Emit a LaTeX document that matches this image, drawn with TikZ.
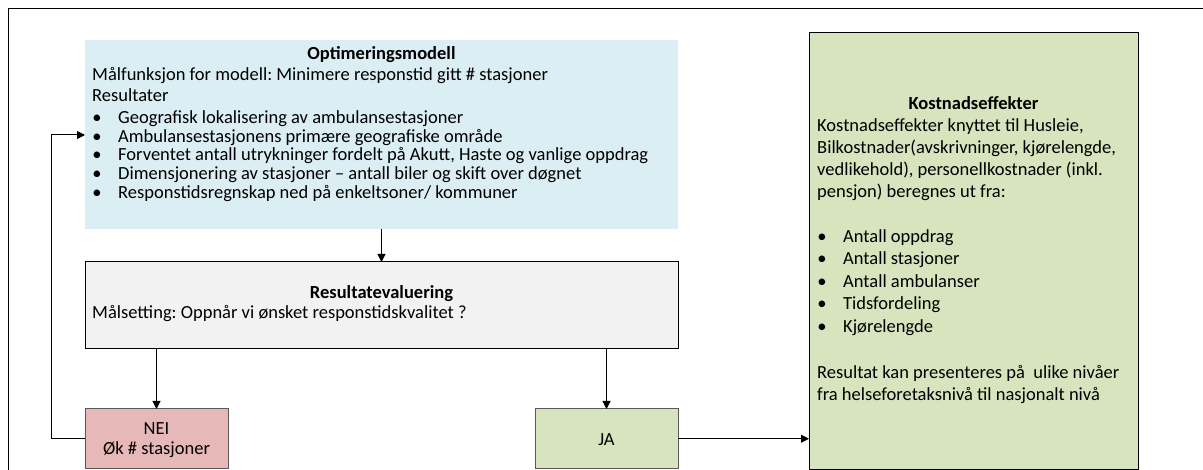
\documentclass[tikz,border=0pt]{standalone}
\usepackage{fontspec}
\setmainfont{Carlito}
\usetikzlibrary{arrows.meta}
\definecolor{optblue}{HTML}{DBEEF4}
\definecolor{evalgray}{HTML}{F2F2F2}
\definecolor{neired}{HTML}{E6B9B8}
\definecolor{jagreen}{HTML}{D7E4BD}
\definecolor{neiborder}{HTML}{595959}
\frenchspacing
\begin{document}
\begin{tikzpicture}[x=1pt,y=-1pt,
  boxnode/.style={rectangle, inner sep=0, outer sep=0, line width=1pt},
  conn/.style={line width=1pt, -{Triangle[length=8pt,width=8pt]}},
  tfont/.style={font=\fontsize{18.5}{21}\selectfont},
  tline/.style={anchor=west, inner sep=0, text height=0.7em, text depth=0.22em, tfont},
  tcenter/.style={anchor=center, inner sep=0, text height=0.7em, text depth=0.22em, tfont},
  ttitle/.style={tcenter, font=\fontsize{18.5}{21}\selectfont\bfseries},
  bdot/.style={anchor=center, inner sep=0, text height=0.7em, text depth=0.22em, tfont}
]
\useasboundingbox (0,0) rectangle (1203,470);
% outer frame
\draw[line width=1pt] (8,471) -- (8,9) -- (1204,9);

% boxes
\node[boxnode, fill=optblue, minimum width=593pt, minimum height=189pt] (opt) at (381.5,134.5) {};
\node[boxnode, draw=black, fill=evalgray, minimum width=593pt, minimum height=87pt] (eval) at (381.5,305.5) {};
\node[boxnode, draw=neiborder, fill=neired, minimum width=143pt, minimum height=59.5pt] (nei) at (156.5,438.75) {};
\node[boxnode, draw=neiborder, fill=jagreen, minimum width=143pt, minimum height=59.5pt] (ja) at (606.5,438.75) {};
\node[boxnode, draw=black, fill=jagreen, minimum width=329pt, minimum height=436pt] (kost) at (973.5,251) {};

% Optimeringsmodell text
\node[ttitle] (optT) at (381.5,57) {Optimeringsmodell};
\node[tline] (optL1) at (92,78) {Målfunksjon for modell: Minimere responstid gitt \# stasjoner};
\node[tline] (optL2) at (92,99) {Resultater};
\foreach \y/\t [count=\i] in {121/{Geografisk lokalisering av ambulansestasjoner},
  139.7/{Ambulansestasjonens primære geografiske område},
  158.5/{Forventet antall utrykninger fordelt på Akutt, Haste og vanlige oppdrag},
  177.2/{Dimensjonering av stasjoner – antall biler og skift over døgnet},
  196/{Responstidsregnskap ned på enkeltsoner/ kommuner}}{
  \node[bdot] (optD\i) at (97,\y) {\textbullet};
  \node[tline] (optB\i) at (118,\y) {\t};
}

% Resultatevaluering text
\node[ttitle] (evalT) at (381.5,296) {Resultatevaluering};
\node[tline] (evalL1) at (92,316) {Målsetting: Oppnår vi ønsket responstidskvalitet ?};

% NEI / JA
\node[tcenter] (neiT1) at (156.5,432.5) {NEI};
\node[tcenter] (neiT2) at (156.5,452.5) {Øk \# stasjoner};
\node[tcenter] (jaT) at (606.5,443) {JA};

% Kostnadseffekter text
\node[ttitle] (kostT) at (973.5,107) {Kostnadseffekter};
\node[tline] (kostL1) at (817,129) {Kostnadseffekter knyttet til Husleie,};
\node[tline] (kostL2) at (817,151) {Bilkostnader(avskrivninger, kjørelengde,};
\node[tline] (kostL3) at (817,173) {vedlikehold), personellkostnader (inkl.};
\node[tline] (kostL4) at (817,195) {pensjon) beregnes ut fra:};
\foreach \y/\t [count=\i] in {240/{Antall oppdrag}, 262.5/{Antall stasjoner}, 285/{Antall ambulanser}, 307.5/{Tidsfordeling}, 330/{Kjørelengde}}{
  \node[bdot] (kostD\i) at (822,\y) {\textbullet};
  \node[tline] (kostB\i) at (843,\y) {\t};
}
\node[tline] (kostL5) at (817,376) {Resultat kan presenteres på\ \ ulike nivåer};
\node[tline] (kostL6) at (817,398) {fra helseforetaksnivå til nasjonalt nivå};

% connectors
\coordinate (fbcorner) at (51,135);
\coordinate (fbin) at (opt.west |- fbcorner);
\draw[conn] (opt.south) -- (eval.north);
\draw[conn] (eval.south -| nei.north) -- (nei.north);
\draw[conn] (eval.south -| ja.north) -- (ja.north);
\draw[conn] (ja.east) -- (ja.east -| kost.west);
\draw[conn] (nei.west) -| (fbcorner) -- (fbin);
\end{tikzpicture}
\end{document}
